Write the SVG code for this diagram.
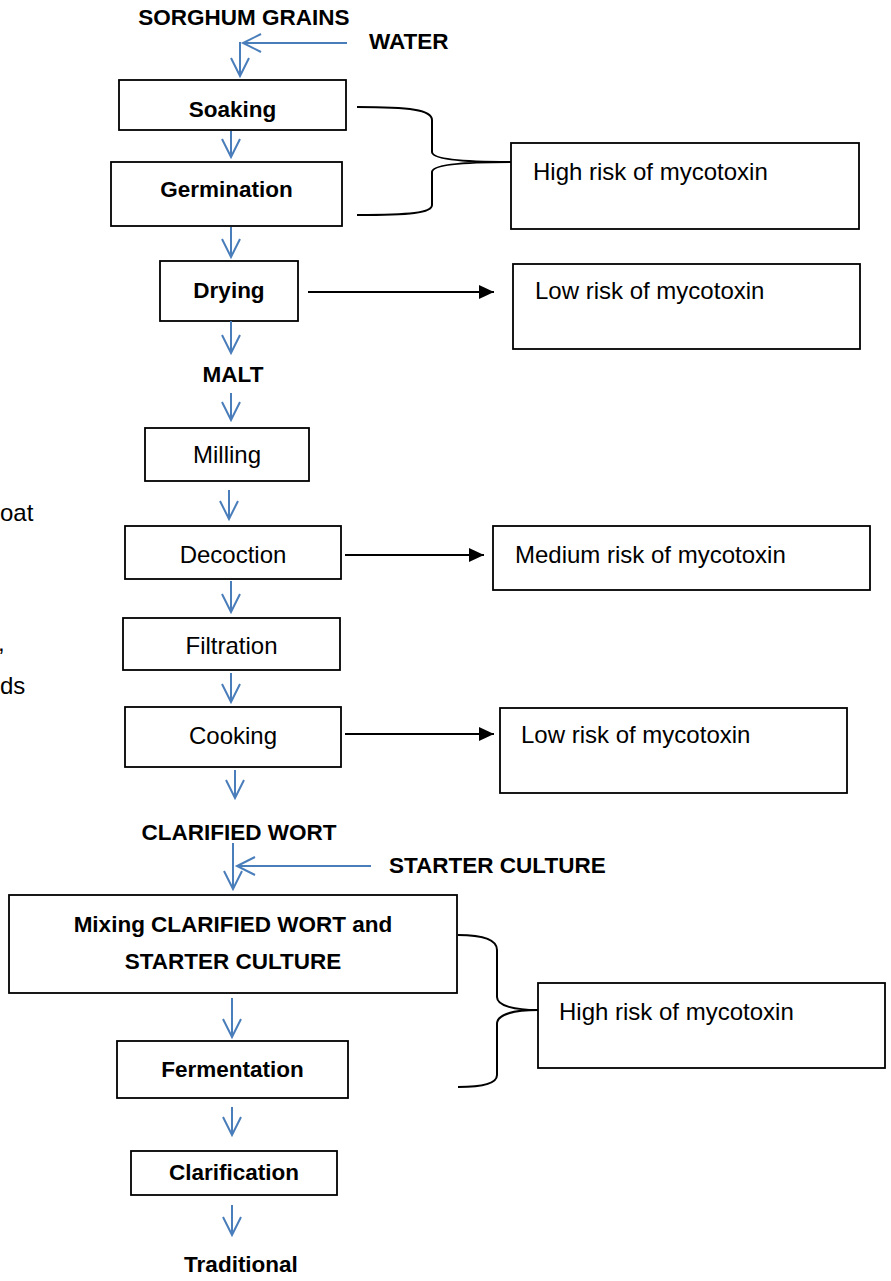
<svg xmlns="http://www.w3.org/2000/svg" width="891" height="1281" viewBox="0 0 891 1281">
<defs>
<style>
.box{fill:#fff;stroke:#000;stroke-width:1.8}
.t{font-family:"Liberation Sans",Arial,sans-serif;font-size:24px;fill:#000}
.b{font-family:"Liberation Sans",Arial,sans-serif;font-size:22.5px;font-weight:bold;fill:#000}
.m{text-anchor:middle}
.blue{stroke:#4a7ebb;stroke-width:2;fill:none;marker-end:url(#bh)}
.blk{stroke:#000;stroke-width:2;fill:none;marker-end:url(#kh)}
.brace{stroke:#000;stroke-width:2;fill:none}
</style>
<marker id="bh" markerUnits="userSpaceOnUse" markerWidth="22" markerHeight="22" refX="19" refY="10" orient="auto" overflow="visible">
<path d="M1,1 L19,10 L1,19" fill="none" stroke="#4a7ebb" stroke-width="2"/>
</marker>
<marker id="kh" markerUnits="userSpaceOnUse" markerWidth="16" markerHeight="16" refX="15" refY="7" orient="auto">
<path d="M0,0 L15,7 L0,14 z" fill="#000"/>
</marker>
</defs>
<rect width="891" height="1281" fill="#fff"/>

<g id="labels">
<text class="b m" x="244" y="25">SORGHUM GRAINS</text>
<text class="b" x="369" y="49">WATER</text>
<text class="b m" x="233" y="382">MALT</text>
<text class="b m" x="239" y="840">CLARIFIED WORT</text>
<text class="b" x="389" y="873">STARTER CULTURE</text>
<text class="b m" x="241" y="1272">Traditional</text>
<text class="t" x="0" y="521">oat</text>
<text class="t" x="-2" y="651">,</text>
<text class="t" x="0" y="694">ds</text>
</g>

<g id="soaking"><rect class="box" x="119" y="80" width="227" height="50"/><text class="b m" x="232.5" y="117">Soaking</text></g>
<g id="germination"><rect class="box" x="111" y="162" width="231" height="64"/><text class="b m" x="226.5" y="197">Germination</text></g>
<g id="drying"><rect class="box" x="160" y="261" width="138" height="60"/><text class="b m" x="229" y="298">Drying</text></g>
<g id="milling"><rect class="box" x="145" y="428" width="164" height="53"/><text class="t m" x="227" y="463">Milling</text></g>
<g id="decoction"><rect class="box" x="125" y="526" width="216" height="53"/><text class="t m" x="233" y="563">Decoction</text></g>
<g id="filtration"><rect class="box" x="123" y="618" width="217" height="52"/><text class="t m" x="231.5" y="654">Filtration</text></g>
<g id="cooking"><rect class="box" x="125" y="707" width="216" height="60"/><text class="t m" x="233" y="744">Cooking</text></g>
<g id="mixing"><rect class="box" x="9" y="895" width="448" height="98"/><text class="b m" x="233" y="932">Mixing CLARIFIED WORT and</text><text class="b m" x="233" y="969">STARTER CULTURE</text></g>
<g id="fermentation"><rect class="box" x="117" y="1041" width="231" height="57"/><text class="b m" x="232.5" y="1077">Fermentation</text></g>
<g id="clarification"><rect class="box" x="131" y="1151" width="206" height="44"/><text class="b m" x="234" y="1180">Clarification</text></g>

<g id="risk-high-1"><rect class="box" x="511" y="143" width="348" height="86"/><text class="t" x="533" y="180">High risk of mycotoxin</text></g>
<g id="risk-low-1"><rect class="box" x="513" y="264" width="347" height="85"/><text class="t" x="535" y="299">Low risk of mycotoxin</text></g>
<g id="risk-medium"><rect class="box" x="493" y="526" width="377" height="64"/><text class="t" x="515" y="563">Medium risk of mycotoxin</text></g>
<g id="risk-low-2"><rect class="box" x="500" y="708" width="347" height="85"/><text class="t" x="521" y="743">Low risk of mycotoxin</text></g>
<g id="risk-high-2"><rect class="box" x="538" y="983" width="347" height="85"/><text class="t" x="559" y="1020">High risk of mycotoxin</text></g>

<g id="connectors">
<path class="blue" d="M240,42 L240,76"/>
<path class="blue" d="M347,43 L243,43"/>
<path class="blue" d="M231,131 L231,157"/>
<path class="blue" d="M231,227 L231,257"/>
<path class="blue" d="M231,321 L231,353"/>
<path class="blue" d="M231,393 L231,420"/>
<path class="blue" d="M229,490 L229,519"/>
<path class="blue" d="M231,581 L231,612"/>
<path class="blue" d="M231,673 L231,702"/>
<path class="blue" d="M235,770 L235,798"/>
<path class="blue" d="M233,843 L233,889"/>
<path class="blue" d="M371,866 L237,866"/>
<path class="blue" d="M232,998 L232,1037"/>
<path class="blue" d="M232,1107 L232,1135"/>
<path class="blue" d="M232,1205 L232,1235"/>
<path class="blk" d="M308,292 L494,292"/>
<path class="blk" d="M345,555 L484,555"/>
<path class="blk" d="M345,734 L494,734"/>
<path class="brace" d="M357,107 C410,107 432,110 432,120 L432,152 C432,160 470,162 511,162 M511,162 C470,162 432,164 432,172 L432,205 C432,213 410,215 357,215"/>
<path class="brace" d="M458,935 C485,935 497,940 497,950 L497,997 C497,1006 515,1010 538,1010 M538,1010 C515,1010 497,1014 497,1024 L497,1075 C497,1083 485,1087 458,1087"/>
</g>
</svg>
